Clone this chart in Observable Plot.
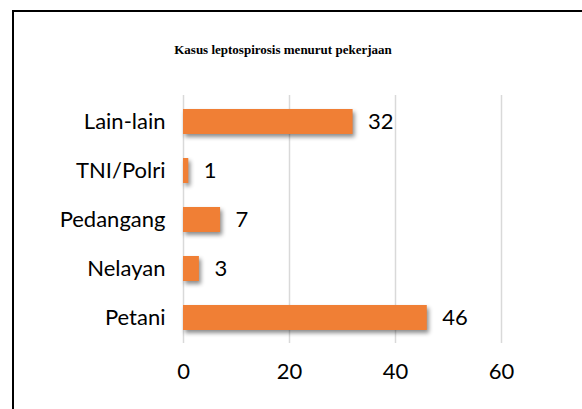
<!DOCTYPE html>
<html>
<head>
<meta charset="utf-8">
<script src="https://cdn.jsdelivr.net/npm/d3@7"></script>
<script src="https://cdn.jsdelivr.net/npm/@observablehq/plot@0.6"></script>
<style>
  html, body { margin: 0; padding: 0; background: #fff; width: 582px; height: 409px; overflow: hidden; }
  #frame { position: absolute; left: 12px; top: 10px; width: 600px; height: 420px; border-top: 2px solid #000; border-left: 2px solid #000; }
  #title { position: absolute; left: 0; top: 42px; width: 566px; text-align: center; font-family: "Liberation Serif", serif; font-weight: bold; font-size: 13px; color: #000; }
  #chart { position: absolute; left: 0; top: 70px; }
</style>
</head>
<body>
<div id="frame"></div>
<div id="title">Kasus leptospirosis menurut pekerjaan</div>
<div id="chart"></div>
<script>
const categories = ["Lain-lain", "TNI/Polri", "Pedangang", "Nelayan", "Petani"];
const values = [32, 1, 7, 3, 46];
const xTicks = [0, 20, 40, 60];

const data = categories.map((c, i) => ({category: c, value: values[i]}));

const FS = 22;
const plot = Plot.plot({
  width: 582,
  height: 339,
  marginLeft: 183,
  marginRight: 81,
  marginTop: 25,
  marginBottom: 66,
  style: {fontFamily: "Lato, sans-serif", fontSize: FS + "px", color: "#000", background: "transparent"},
  x: {domain: [0, 60], label: null},
  y: {domain: categories, paddingInner: 0.5, paddingOuter: 0.25, label: null},
  marks: [
    Plot.gridX(xTicks, {stroke: "#d9d9d9", strokeOpacity: 1, strokeWidth: 1.5}),
    Plot.axisX(xTicks, {tickSize: 0, tickPadding: 20, fontSize: FS, label: null, fill: "#000"}),
    Plot.axisY({tickSize: 0, tickPadding: 18, fontSize: FS, label: null, fill: "#000"}),
    Plot.barX(data, {x: "value", y: "category", fill: "#F07F35"}),
    Plot.text(data, {x: "value", y: "category", text: d => String(d.value), dx: 15, textAnchor: "start", fontSize: FS, fill: "#000"})
  ]
});
document.getElementById("chart").appendChild(plot);
const bars = plot.querySelector('g[aria-label="bar"]');
if (bars) bars.setAttribute("style", "filter: drop-shadow(2px 3px 2px rgba(0,0,0,0.45))");
</script>
</body>
</html>
